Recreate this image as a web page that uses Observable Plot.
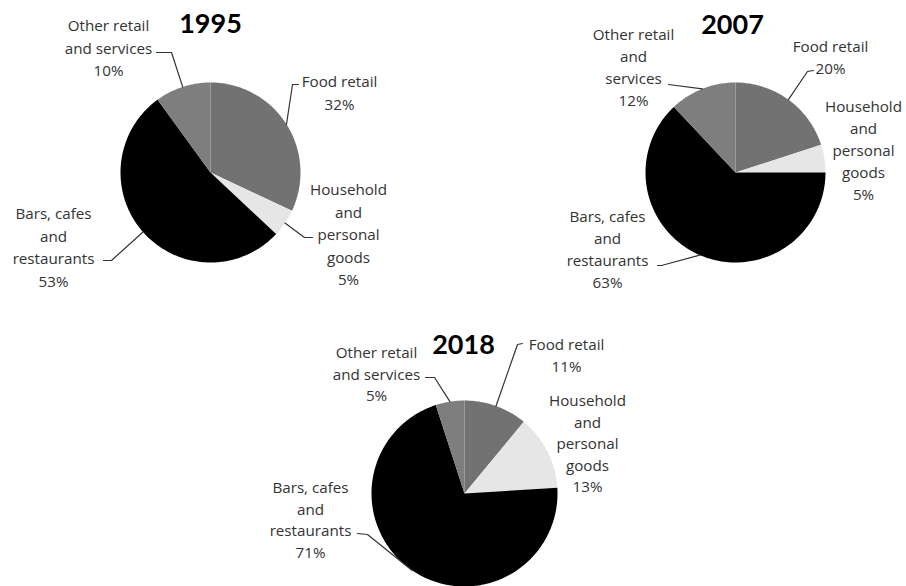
<!DOCTYPE html>
<html><head><meta charset="utf-8">
<script src="https://cdn.jsdelivr.net/npm/d3@7"></script>
<script src="https://cdn.jsdelivr.net/npm/@observablehq/plot@0.6"></script>
<style>body{margin:0;background:#fff}</style>
</head><body><div id="chart"></div>
<script>
// ---- data ----
const years = ["1995", "2007", "2018"];
const categories = ["Food retail", "Household and personal goods", "Bars, cafes and restaurants", "Other retail and services"];
const share1995 = [32, 5, 53, 10];
const share2007 = [20, 5, 63, 12];
const share2018 = [11, 13, 71, 5];
const labels1995 = [["Food retail"], ["Household", "and", "personal", "goods"], ["Bars, cafes", "and", "restaurants"], ["Other retail", "and services"]];
const labels2007 = [["Food retail"], ["Household", "and", "personal", "goods"], ["Bars, cafes", "and", "restaurants"], ["Other retail", "and", "services"]];
const labels2018 = [["Food retail"], ["Household", "and", "personal", "goods"], ["Bars, cafes", "and", "restaurants"], ["Other retail", "and services"]];

// ---- styles ----
const sliceColors = ["#727272", "#e6e6e6", "#000000", "#7e7e7e"];

// ---- layout (pixel positions) ----
const layout = {
  "1995": {cx: 210, cy: 172, r: 90, title: [210, 24], lh: 22.5, labels: [
    {x: 339, y: 82, leader: [[298, 84], [292, 84]]},
    {x: 348, y: 190, leader: [[312, 237], [304, 237]]},
    {x: 53, y: 214, leader: [[103, 260], [111, 260]]},
    {x: 108, y: 26, leader: [[156, 52], [171, 52]]}
  ]},
  "2007": {cx: 735, cy: 172, r: 90, title: [732, 25], lh: 22, labels: [
    {x: 830, y: 47, leader: [[813, 70], [807, 71]]},
    {x: 863, y: 107, leader: null},
    {x: 607, y: 217, leader: [[657, 265], [661, 265]]},
    {x: 633, y: 35, leader: [[668, 84]]}
  ]},
  "2018": {cx: 464, cy: 493, r: 93, title: [463, 345], lh: 21.5, labels: [
    {x: 566, y: 345, leader: [[522, 343], [517, 344]]},
    {x: 587, y: 401, leader: null},
    {x: 310, y: 488, leader: [[357, 533], [367, 534]]},
    {x: 376, y: 353, leader: [[425, 377], [434, 377]]}
  ]}
};

const shares = {"1995": share1995, "2007": share2007, "2018": share2018};
const labelLines = {"1995": labels1995, "2007": labels2007, "2018": labels2018};

const slicePts = [], leaderPts = [], labelRows = [], titleRows = [];
for (const yr of years) {
  const L = layout[yr];
  const vals = shares[yr];
  const total = d3.sum(vals);
  let cum = 0;
  vals.forEach((v, i) => {
    const a0 = cum / total * 2 * Math.PI;
    const a1 = (cum + v) / total * 2 * Math.PI;
    const key = yr + "-" + i;
    const cat = categories[i];
    slicePts.push({key, cat, x: L.cx, y: L.cy});
    const n = Math.max(4, Math.ceil((a1 - a0) / (Math.PI / 180)));
    for (let k = 0; k <= n; k++) {
      const t = a0 + (a1 - a0) * k / n;
      slicePts.push({key, cat, x: L.cx + L.r * Math.sin(t), y: L.cy - L.r * Math.cos(t)});
    }
    slicePts.push({key, cat, x: L.cx, y: L.cy});

    // labels
    const lab = L.labels[i];
    const lines = [...labelLines[yr][i], v + "%"];
    lines.forEach((s, j) => labelRows.push({x: lab.x, y: lab.y + j * L.lh, text: s}));

    // leader lines: from label to slice edge at mid-angle
    if (lab.leader) {
      const am = (a0 + a1) / 2;
      lab.leader.forEach(p => leaderPts.push({key, x: p[0], y: p[1]}));
      leaderPts.push({key, x: L.cx + L.r * Math.sin(am), y: L.cy - L.r * Math.cos(am)});
    }
    cum += v;
  });
  titleRows.push({x: L.title[0], y: L.title[1], text: yr});
}

const chart = Plot.plot({
  width: 906,
  height: 586,
  margin: 0,
  style: {fontFamily: "'Open Sans', Lato, sans-serif", background: "#fff"},
  x: {domain: [0, 906], range: [0, 906], axis: null},
  y: {domain: [0, 586], range: [0, 586], axis: null},
  color: {domain: categories, range: sliceColors},
  marks: [
    Plot.line(slicePts, {x: "x", y: "y", z: "key", fill: "cat", stroke: "none"}),
    Plot.line(leaderPts, {x: "x", y: "y", z: "key", stroke: "#333", strokeWidth: 1.2}),
    Plot.text(labelRows, {x: "x", y: "y", text: "text", fontSize: 15.2, fill: "#333"}),
    Plot.text(titleRows, {x: "x", y: "y", text: "text", fontSize: 27, fontWeight: "bold", fill: "#000", fontFamily: "Lato, sans-serif"})
  ]
});
document.getElementById("chart").append(chart);
</script>
</body></html>
